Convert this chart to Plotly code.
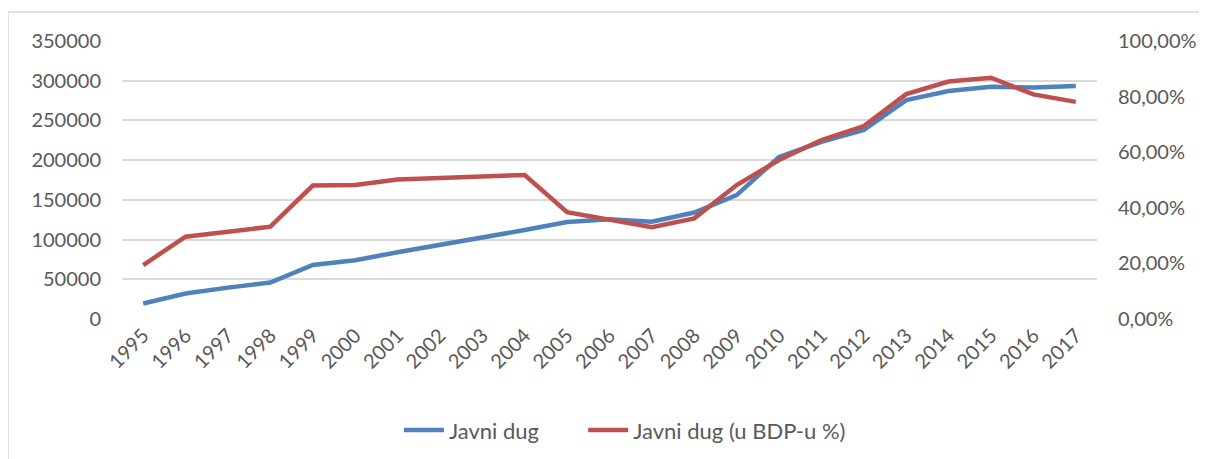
import plotly.graph_objects as go

years = [str(y) for y in range(1995, 2018)]
javni_dug = [19500, 32000, 39500, 46000, 68000, 74000, 84000, 93000, 102000, 112000,
             122000, 125500, 122500, 134000, 156000, 204000, 223000, 238000, 275500,
             287000, 292500, 291500, 293500]
javni_dug_pct = [0.194, 0.296, 0.314, 0.332, 0.480, 0.482, 0.502, 0.506, 0.512, 0.518,
                 0.384, 0.356, 0.330, 0.362, 0.482, 0.572, 0.644, 0.694, 0.809, 0.854,
                 0.868, 0.808, 0.781]

left_ticks = [0, 50000, 100000, 150000, 200000, 250000, 300000, 350000]
left_ticktext = ["0", "50000", "100000", "150000", "200000", "250000", "300000", "350000"]
right_ticks = [0, 0.2, 0.4, 0.6, 0.8, 1.0]
right_ticktext = ["0,00%", "20,00%", "40,00%", "60,00%", "80,00%", "100,00%"]

BLUE = "#4F81BD"
RED = "#C0504D"
TXT = "#595959"
FONT = "Lato, 'Open Sans', sans-serif"

fig = go.Figure()
fig.add_trace(go.Scatter(x=years, y=javni_dug, name="Javni dug", mode="lines",
                         line=dict(color=BLUE, width=4.5), yaxis="y", legend="legend"))
fig.add_trace(go.Scatter(x=years, y=javni_dug_pct, name="Javni dug (u BDP-u %)", mode="lines",
                         line=dict(color=RED, width=4.5), yaxis="y2", legend="legend2"))

legend_common = dict(orientation="h", yanchor="middle", y=-0.40, xanchor="left",
                     font=dict(family=FONT, size=22, color=TXT), itemwidth=40,
                     bgcolor="rgba(0,0,0,0)")

fig.update_layout(
    width=1199, height=451,
    margin=dict(l=114, r=110, t=33, b=140, autoexpand=False),
    paper_bgcolor="white", plot_bgcolor="white",
    font=dict(family=FONT, size=20, color=TXT),
    showlegend=True,
    legend=dict(x=0.284, **legend_common),
    legend2=dict(x=0.473, **legend_common),
    xaxis=dict(type="category", tickangle=-45, showgrid=False, showline=False,
               range=[-0.5, len(years) - 0.5], automargin=False,
               ticks="", tickfont=dict(family=FONT, size=20, color=TXT)),
    yaxis=dict(range=[0, 350000], tickvals=left_ticks, ticktext=left_ticktext,
               showgrid=True, gridcolor="#D9D9D9", gridwidth=1.5, zeroline=False,
               showline=False, ticks="", ticklabelstandoff=20, automargin=False,
               tickfont=dict(family=FONT, size=20, color=TXT)),
    yaxis2=dict(range=[0, 1.0], tickvals=right_ticks, ticktext=right_ticktext,
                overlaying="y", side="right", showgrid=False, zeroline=False,
                showline=False, ticks="", ticklabelstandoff=20, automargin=False,
                tickfont=dict(family=FONT, size=20, color=TXT)),
)

fig.add_shape(type="rect", xref="paper", yref="paper",
              x0=-0.1169, x1=1.2, y0=-0.6, y1=1.1043,
              line=dict(color="#D9D9D9", width=1.5), fillcolor="rgba(0,0,0,0)", layer="below")

fig.write_html("out.html")
